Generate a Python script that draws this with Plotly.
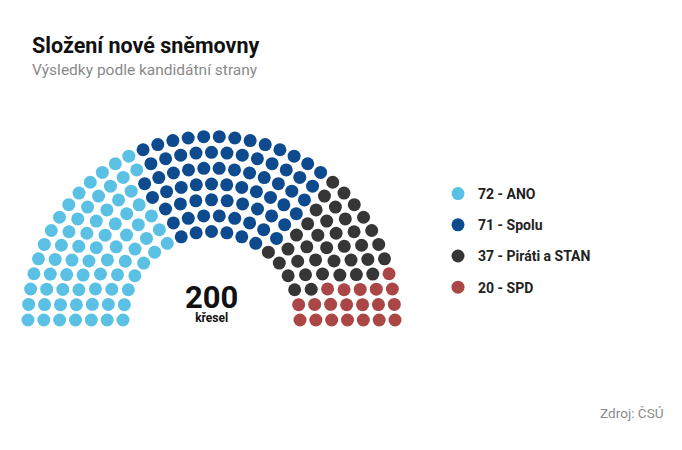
import math
import plotly.graph_objects as go

# ---- data ----
parties = ["ANO", "Spolu", "Piráti a STAN", "SPD"]
seats = [72, 71, 37, 20]
colors = ["#5bc1e4", "#0e4a8e", "#363636", "#ab4646"]
title = "Složení nové sněmovny"
subtitle = "Výsledky podle kandidátní strany"
source = "Zdroj: ČSÚ"
center_label = "křesel"

# ---- layout parameters of the hemicycle ----
n_rings = 7
inner_r = 88.5
outer_r = 183.5
W, H = 682, 450
OFF = 8  # page offset of the figure in the browser
cx_px, cy_px = 211.5 - OFF, 320 - OFF

total = sum(seats)
radii = [inner_r + i * (outer_r - inner_r) / (n_rings - 1) for i in range(n_rings)]
gaps_total = total - n_rings
raw = [r / sum(radii) * gaps_total for r in radii]
cols = [int(math.floor(v)) for v in raw]
rem = gaps_total - sum(cols)
order = sorted(range(n_rings), key=lambda i: raw[i] - cols[i], reverse=True)
for i in order[:rem]:
    cols[i] += 1

slots = []
for r, c in zip(radii, cols):
    for k in range(c + 1):
        a = math.pi - k * math.pi / c
        slots.append((a, r))
slots.sort(key=lambda s: (-round(s[0], 9), s[1]))

fig = go.Figure()
idx = 0
for name, n, col in zip(parties, seats, colors):
    part = slots[idx: idx + n]
    idx += n
    fig.add_trace(go.Scatter(
        x=[r * math.cos(a) for a, r in part],
        y=[r * math.sin(a) for a, r in part],
        mode="markers",
        marker=dict(size=13, color=col, line=dict(width=0)),
        name=f"<b>{n} - {name}</b>",
        legendgroup=name,
        hoverinfo="skip",
    ))

fig.add_annotation(
    x=0, y=18, xref="x", yref="y", showarrow=False, yanchor="middle",
    text=(f"<b><span style='font-size:31px'>{total}</span></b><br>"
          f"<b><span style='font-size:12px'>{center_label}</span></b>"),
    font=dict(size=10.5, color="#111111", family="Roboto"),
)

fig.add_annotation(x=22 / W, y=1 - 38 / H, xref="paper", yref="paper",
                   text=f"<b>{title}</b>", showarrow=False, xanchor="left", yanchor="middle",
                   font=dict(size=21.5, color="#111111", family="Roboto"))
fig.add_annotation(x=22 / W, y=1 - 62.5 / H, xref="paper", yref="paper",
                   text=subtitle, showarrow=False, xanchor="left", yanchor="middle",
                   font=dict(size=15.5, color="#8a8a8a", family="Roboto"))
fig.add_annotation(x=658 / W, y=1 - 405 / H, xref="paper", yref="paper",
                   text=source, showarrow=False, xanchor="right", yanchor="middle",
                   font=dict(size=13.6, color="#8a8a8a", family="Roboto"))

fig.update_layout(
    width=W, height=H,
    margin=dict(l=0, r=0, t=0, b=0),
    paper_bgcolor="white", plot_bgcolor="white",
    xaxis=dict(range=[-cx_px, W - cx_px], visible=False, fixedrange=True),
    yaxis=dict(range=[-(H - cy_px), cy_px], visible=False, fixedrange=True),
    showlegend=True,
    legend=dict(x=430 / W, y=1 - 170 / H, xanchor="left", yanchor="top",
                font=dict(size=14, color="#222222", family="Roboto"),
                tracegroupgap=10, bgcolor="rgba(0,0,0,0)", itemclick=False,
                itemdoubleclick=False),
)

fig.write_html("out.html")
